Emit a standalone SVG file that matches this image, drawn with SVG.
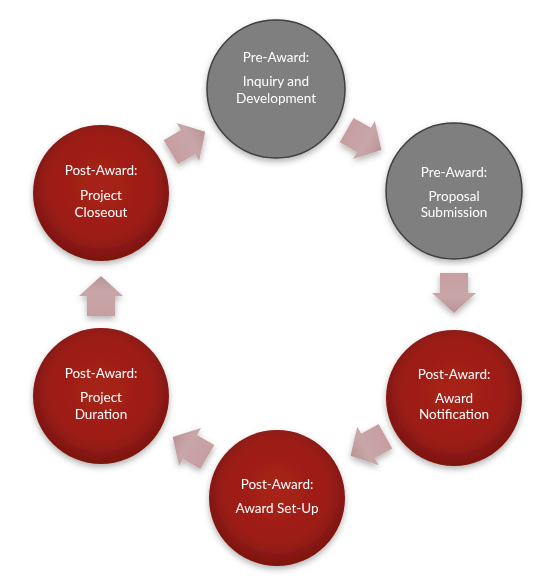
<svg xmlns="http://www.w3.org/2000/svg" width="551" height="576" viewBox="0 0 551 576">
<defs>
<radialGradient id="redG" cx="0.5" cy="0.45" r="0.55">
<stop offset="0" stop-color="#a8221a"/>
<stop offset="0.7" stop-color="#9c1d15"/>
<stop offset="1" stop-color="#7a1510"/>
</radialGradient>
<linearGradient id="arrG" x1="0" y1="0" x2="1" y2="0">
<stop offset="0" stop-color="#c79ea0"/>
<stop offset="0.6" stop-color="#c8a6a8"/>
<stop offset="1" stop-color="#b99396"/>
</linearGradient>
<filter id="sh" x="-30%" y="-30%" width="160%" height="160%">
<feDropShadow dx="0" dy="3" stdDeviation="3" flood-color="#000" flood-opacity="0.3"/>
</filter>
<path id="arrow" d="M-20,-14 L0,-14 L0,-22 L20,0 L0,22 L0,14 L-20,14 Z"/>
</defs>
<style>
.gray{fill:#7f7f7f;stroke:#3f3f3f;stroke-width:1.5}
.red{fill:url(#redG)}
.t{font-family:Lato,"Open Sans","Liberation Sans",sans-serif;font-size:13.5px;fill:#ffffff;text-anchor:middle}
.arr{fill:url(#arrG)}
</style>
<rect width="551" height="576" fill="#ffffff"/>
<g id="connectors" filter="url(#sh)">
<use href="#arrow" class="arr" transform="translate(188,142) rotate(-30.7)"/>
<use href="#arrow" class="arr" transform="translate(364,140) rotate(29.8)"/>
<use href="#arrow" class="arr" transform="translate(454,293) rotate(90)"/>
<use href="#arrow" class="arr" transform="translate(368,446) rotate(150.8)"/>
<use href="#arrow" class="arr" transform="translate(190,447) rotate(210)"/>
<use href="#arrow" class="arr" transform="translate(101,296) rotate(-90)"/>
</g>
<g id="n1" filter="url(#sh)">
<circle cx="276" cy="89" r="69" class="gray"/>
<text class="t" x="276" y="62">Pre-Award:</text>
<text class="t" x="276" y="86">Inquiry and</text>
<text class="t" x="276" y="103">Development</text>
</g>
<g id="n2" filter="url(#sh)">
<circle cx="454" cy="191" r="68" class="gray"/>
<text class="t" x="454" y="177">Pre-Award:</text>
<text class="t" x="454" y="201">Proposal</text>
<text class="t" x="454" y="217">Submission</text>
</g>
<g id="n3" filter="url(#sh)">
<circle cx="454" cy="398" r="68" class="red"/>
<text class="t" x="454" y="379">Post-Award:</text>
<text class="t" x="454" y="403">Award</text>
<text class="t" x="454" y="419">Notification</text>
</g>
<g id="n4" filter="url(#sh)">
<circle cx="277" cy="498" r="68" class="red"/>
<text class="t" x="277" y="489">Post-Award:</text>
<text class="t" x="277" y="513">Award Set-Up</text>
</g>
<g id="n5" filter="url(#sh)">
<circle cx="101" cy="396" r="68" class="red"/>
<text class="t" x="101" y="378">Post-Award:</text>
<text class="t" x="101" y="402">Project</text>
<text class="t" x="101" y="419">Duration</text>
</g>
<g id="n6" filter="url(#sh)">
<circle cx="101" cy="193" r="68" class="red"/>
<text class="t" x="101" y="175">Post-Award:</text>
<text class="t" x="101" y="200">Project</text>
<text class="t" x="101" y="217">Closeout</text>
</g>
</svg>
